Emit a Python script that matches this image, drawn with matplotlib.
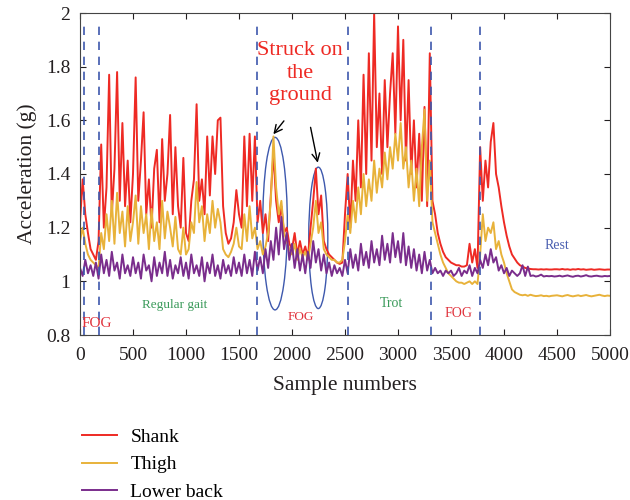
import numpy as np
import matplotlib
matplotlib.use('Agg')
import matplotlib.pyplot as plt
from matplotlib.patches import Ellipse

plt.rcParams['font.family'] = ['Liberation Serif', 'DejaVu Serif']

# one value every 25 samples
step = 25
shank = [
    1.22, 1.38, 1.25, 1.18, 1.12, 1.10, 1.08, 1.15, 1.51, 1.20, 1.35, 1.77, 1.25, 1.42, 1.78, 1.30, 1.59, 1.28, 1.45, 1.22,
    1.40, 1.76, 1.30, 1.45, 1.63, 1.25, 1.38, 1.20, 1.42, 1.49, 1.22, 1.53, 1.30, 1.40, 1.62, 1.25, 1.50, 1.28, 1.20, 1.46,
    1.18, 1.15, 1.30, 1.38, 1.66, 1.30, 1.38, 1.25, 1.54, 1.32, 1.54, 1.40, 1.60, 1.61, 1.28, 1.18, 1.14, 1.16, 1.22, 1.34,
    1.25, 1.20, 1.54, 1.28, 1.55, 1.30, 1.54, 1.22, 1.30, 1.18, 1.25, 1.15, 1.32, 1.48, 1.30, 1.22, 1.28, 1.18, 1.20, 1.14,
    1.12, 1.18, 1.10, 1.15, 1.10, 1.13, 1.09, 1.20, 1.30, 1.42, 1.25, 1.32, 1.15, 1.12, 1.10, 1.09, 1.08, 1.07, 1.065, 1.07,
    1.25, 1.40, 1.20, 1.45, 1.30, 1.60, 1.35, 1.77, 1.40, 1.85, 1.45, 2.00, 1.50, 1.70, 1.40, 1.75, 1.50, 1.70, 1.85, 1.55,
    1.95, 1.60, 1.90, 1.45, 1.75, 1.40, 1.60, 1.35, 1.55, 1.30, 1.65, 1.28, 1.85, 1.30, 1.25, 1.18, 1.14, 1.11, 1.09, 1.08,
    1.07, 1.065, 1.06, 1.06, 1.055, 1.055, 1.06, 1.14, 1.07, 1.12, 1.05, 1.50, 1.30, 1.45, 1.35, 1.52, 1.59, 1.40, 1.35, 1.28,
    1.22, 1.17, 1.13, 1.10, 1.085, 1.07, 1.06, 1.055, 1.05, 1.048, 1.046, 1.045, 1.045, 1.044, 1.045, 1.044, 1.045, 1.044, 1.044, 1.045,
    1.045, 1.044, 1.046, 1.044, 1.045, 1.043, 1.045, 1.044, 1.046, 1.044, 1.045, 1.043, 1.044, 1.045, 1.043, 1.044, 1.045, 1.044, 1.043, 1.044,
    1.044,
]
thigh = [
    1.15, 1.20, 1.14, 1.10, 1.08, 1.07, 1.06, 1.05, 1.18, 1.12, 1.25, 1.15, 1.30, 1.14, 1.33, 1.18, 1.26, 1.13, 1.28, 1.15,
    1.22, 1.32, 1.14, 1.28, 1.18, 1.25, 1.12, 1.27, 1.15, 1.22, 1.12, 1.30, 1.16, 1.26, 1.20, 1.13, 1.24, 1.12, 1.10, 1.20,
    1.10, 1.12, 1.22, 1.18, 1.37, 1.22, 1.28, 1.15, 1.25, 1.18, 1.30, 1.20, 1.27, 1.22, 1.12, 1.10, 1.09, 1.11, 1.14, 1.20,
    1.13, 1.12, 1.25, 1.15, 1.28, 1.16, 1.20, 1.12, 1.15, 1.10, 1.13, 1.18, 1.30, 1.54, 1.35, 1.25, 1.30, 1.18, 1.15, 1.12,
    1.10, 1.14, 1.08, 1.12, 1.09, 1.11, 1.08, 1.14, 1.20, 1.30, 1.18, 1.22, 1.12, 1.10, 1.09, 1.08, 1.08, 1.07, 1.07, 1.08,
    1.15, 1.25, 1.18, 1.30, 1.22, 1.35, 1.25, 1.40, 1.28, 1.38, 1.30, 1.45, 1.33, 1.42, 1.35, 1.48, 1.38, 1.50, 1.42, 1.55,
    1.45, 1.59, 1.42, 1.50, 1.35, 1.45, 1.30, 1.42, 1.28, 1.50, 1.64, 1.30, 1.45, 1.22, 1.18, 1.14, 1.10, 1.07, 1.05, 1.03,
    1.02, 1.01, 1.00, 0.995, 0.995, 0.99, 0.995, 1.00, 0.99, 1.00, 0.99, 1.10, 1.25, 1.15, 1.20, 1.18, 1.22, 1.12, 1.15, 1.10,
    1.07, 1.03, 1.00, 0.97, 0.96, 0.955, 0.95, 0.948, 0.95, 0.946, 0.95, 0.947, 0.945, 0.946, 0.948, 0.945, 0.946, 0.944, 0.946, 0.947,
    0.948, 0.946, 0.944, 0.947, 0.949, 0.946, 0.944, 0.946, 0.948, 0.945, 0.947, 0.949, 0.946, 0.944, 0.946, 0.948, 0.950, 0.947, 0.945, 0.947,
    0.946,
]
lower_back = [
    1.05, 1.02, 1.08, 1.03, 1.06, 1.02, 1.07, 1.01, 1.10, 1.03, 1.08, 1.02, 1.11, 1.04, 1.07, 1.01, 1.10, 1.03, 1.06, 1.02,
    1.09, 1.03, 1.07, 1.01, 1.10, 1.04, 1.06, 1.00, 1.09, 1.02, 1.07, 1.03, 1.11, 1.02, 1.08, 1.01, 1.06, 1.03, 1.09, 1.02,
    1.07, 1.01, 1.10, 1.03, 1.06, 1.02, 1.09, 1.00, 1.07, 1.03, 1.10, 1.02, 1.06, 1.01, 1.08, 1.03, 1.06, 1.02, 1.09, 1.03,
    1.07, 1.02, 1.10, 1.03, 1.08, 1.02, 1.11, 1.04, 1.09, 1.03, 1.12, 1.05, 1.15, 1.08, 1.20, 1.10, 1.24, 1.12, 1.18, 1.08,
    1.14, 1.05, 1.12, 1.04, 1.10, 1.03, 1.11, 1.05, 1.15, 1.07, 1.12, 1.04, 1.10, 1.03, 1.07, 1.02, 1.06, 1.03, 1.05, 1.02,
    1.08, 1.03, 1.12, 1.05, 1.10, 1.04, 1.14, 1.06, 1.11, 1.05, 1.15, 1.07, 1.12, 1.06, 1.17, 1.08, 1.14, 1.07, 1.18, 1.09,
    1.15, 1.07, 1.18, 1.06, 1.13, 1.05, 1.12, 1.04, 1.10, 1.03, 1.11, 1.04, 1.08, 1.03, 1.05, 1.03, 1.04, 1.02, 1.04, 1.03,
    1.04, 1.02, 1.03, 1.05, 1.02, 1.04, 1.03, 1.06, 1.02, 1.05, 1.03, 1.08, 1.05, 1.10, 1.06, 1.12, 1.07, 1.09, 1.04, 1.06,
    1.03, 1.05, 1.02, 1.04, 1.03, 1.02, 1.03, 1.06, 1.02, 1.055, 1.02, 1.022, 1.018, 1.02, 1.025, 1.018, 1.02, 1.019, 1.02, 1.018,
    1.019, 1.021, 1.018, 1.020, 1.022, 1.019, 1.017, 1.020, 1.021, 1.018, 1.020, 1.023, 1.019, 1.018, 1.020, 1.021, 1.019, 1.018, 1.020, 1.019,
    1.020,
]
samples = np.arange(len(shank)) * step

phase_bounds = [38, 182, 1667, 2531, 3308, 3777]
phase_labels = ['FOG', 'Regular gait', 'FOG', 'Trot', 'FOG', 'Rest']
phase_x = [160, 893, 2080, 2934, 3569, 4500]
phase_y = [0.842, 0.912, 0.867, 0.916, 0.88, 1.133]

red = '#ee2a24'
orange = '#e8b23a'
purple = '#7a2d8c'
blue = '#3d58ad'

fig = plt.figure(figsize=(6.3, 5), dpi=100)
ax = fig.add_axes([80/630, 1-335/500, 530/630, 322/500])

ax.plot(samples, shank, color=red, lw=1.4, label='Shank')
ax.plot(samples, thigh, color=orange, lw=1.4, label='Thigh')
ax.plot(samples, lower_back, color=purple, lw=1.4, label='Lower back')

ax.vlines(phase_bounds, 0.8, 1.975, colors=blue, linestyles=(0, (5, 4)), lw=1.2)

ax.add_patch(Ellipse((1840, 1.215), 232, 0.643, fill=False, ec=blue, lw=1))
ax.add_patch(Ellipse((2248, 1.162), 180, 0.527, fill=False, ec=blue, lw=1))
ax.annotate('', xy=(1808, 1.540), xytext=(1940, 1.606),
            arrowprops=dict(arrowstyle='->', color='black', lw=1, mutation_scale=14))
ax.annotate('', xy=(2248, 1.432), xytext=(2170, 1.584),
            arrowprops=dict(arrowstyle='->', color='black', lw=1, mutation_scale=14))
ax.text(2075, 1.775, 'Struck on\nthe\nground', color='#ee2a24', fontsize=16,
        ha='center', va='center', linespacing=1.25)

label_colors = ['#e0303a', '#3a9a5a', '#e0303a', '#3a9a5a', '#e0303a', '#4a5fb0']
label_sizes = [11, 9.5, 9.5, 10, 10, 10]
for lx, ly, t, c, s in zip(phase_x, phase_y, phase_labels, label_colors, label_sizes):
    ax.text(lx, ly, t, color=c, fontsize=s, ha='center', va='center')

ax.set_xlim(0, 5000)
ax.set_ylim(0.8, 2)
ax.set_xticks(np.arange(0, 5001, 500))
ax.set_yticks([0.8, 1, 1.2, 1.4, 1.6, 1.8, 2])
ax.set_yticklabels(['0.8', '1', '1.2', '1.4', '1.6', '1.8', '2'])
ax.tick_params(direction='in', top=True, right=True, labelsize=14, length=4, colors='#231f20')
ax.tick_params(axis='x', pad=9)
ax.tick_params(axis='y', pad=7)
for sp in ax.spines.values():
    sp.set_color('#444444')
ax.set_xlabel('Sample numbers', fontsize=15.5, color='#231f20', labelpad=8)
ax.set_ylabel('Acceleration (g)', fontsize=15.5, color='#231f20', labelpad=6)

fig.legend(loc='upper left', bbox_to_anchor=(64/630, 1-411/500), frameon=False,
           fontsize=14, handlelength=1.8, handletextpad=0.72, labelspacing=0.5)

fig.savefig('out.png', dpi=100)
